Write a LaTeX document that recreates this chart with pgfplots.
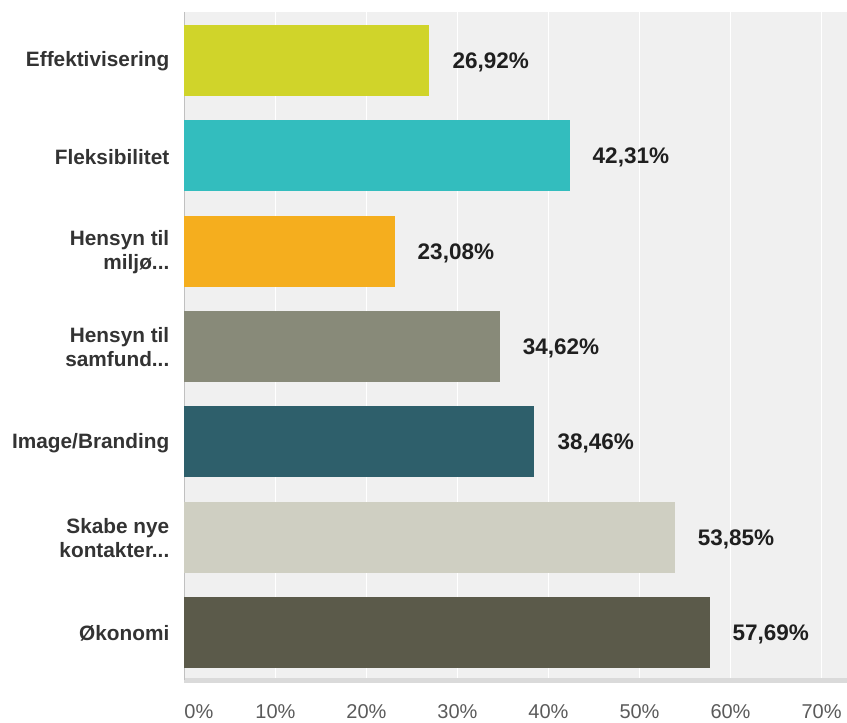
\documentclass[border=0pt]{standalone}
\usepackage{pgfplots}
\pgfplotsset{compat=1.18}
\usepackage{fontspec}
\setmainfont{Liberation Sans}
\definecolor{c1}{HTML}{D0D42A}
\definecolor{c2}{HTML}{33BDBE}
\definecolor{c3}{HTML}{F5AE1E}
\definecolor{c4}{HTML}{888A79}
\definecolor{c5}{HTML}{2E5F6B}
\definecolor{c6}{HTML}{CFCFC2}
\definecolor{c7}{HTML}{5B5A4A}
\definecolor{bg}{HTML}{F0F0F0}
\definecolor{lab}{HTML}{333333}
\definecolor{ticklab}{HTML}{5A5A5A}
\definecolor{axb}{HTML}{DADADA}
\definecolor{axl}{HTML}{C0C0C0}
\newcommand{\dd}{.{}.{}.}
\begin{document}
\begin{tikzpicture}
\begin{axis}[
  scale only axis, width=662.5pt, height=668pt,
  xbar, bar width=0.745, bar shift=0pt,
  xmin=0, xmax=72.8,
  ymin=-0.509, ymax=6.498, y dir=reverse,
  axis background/.style={fill=bg},
  xtick={0,10,20,30,40,50,60,70},
  xticklabels={\makebox[0pt][l]{0\%},10\%,20\%,30\%,40\%,50\%,60\%,70\%},
  xmajorgrids, major grid style={white, line width=1.8pt},
  ytick={0,1,2,3,4,5,6},
  yticklabels={Effektivisering, Fleksibilitet, Hensyn til\\miljø\dd, Hensyn til\\samfund\dd, Image/Branding, Skabe nye\\kontakter\dd, Økonomi},
  y tick label style={font=\fontsize{20.8}{24}\selectfont\bfseries, text=lab, align=right, inner sep=0pt, xshift=-15pt, yshift=-1pt},
  x tick label style={font=\fontsize{20}{24}\selectfont, text=ticklab, inner sep=0pt, yshift=-24pt},
  major tick length=0pt,
  axis x line*=bottom, axis y line*=left,
  x axis line style={draw=axb, line width=5pt},
  y axis line style={draw=axl, line width=1.5pt},
  point meta=x,
  nodes near coords={\pgfmathprintnumber[fixed, fixed zerofill, precision=2, use comma, assume math mode=true]{\pgfplotspointmeta}\%},
  nodes near coords style={font=\fontsize{22.5}{26}\selectfont\bfseries, text=black!88, anchor=west, inner sep=0pt, xshift=23pt, yshift=-2pt},
  clip=false,
]
\addplot[fill=c1, draw=none] coordinates {(26.92,0)};
\addplot[fill=c2, draw=none] coordinates {(42.31,1)};
\addplot[fill=c3, draw=none] coordinates {(23.08,2)};
\addplot[fill=c4, draw=none] coordinates {(34.62,3)};
\addplot[fill=c5, draw=none] coordinates {(38.46,4)};
\addplot[fill=c6, draw=none] coordinates {(53.85,5)};
\addplot[fill=c7, draw=none] coordinates {(57.69,6)};
\end{axis}
\pgfresetboundingbox
\useasboundingbox ([xshift=-184.5pt,yshift=-43pt]current axis.south west) rectangle ([yshift=12pt]current axis.north east);
\end{tikzpicture}
\end{document}
